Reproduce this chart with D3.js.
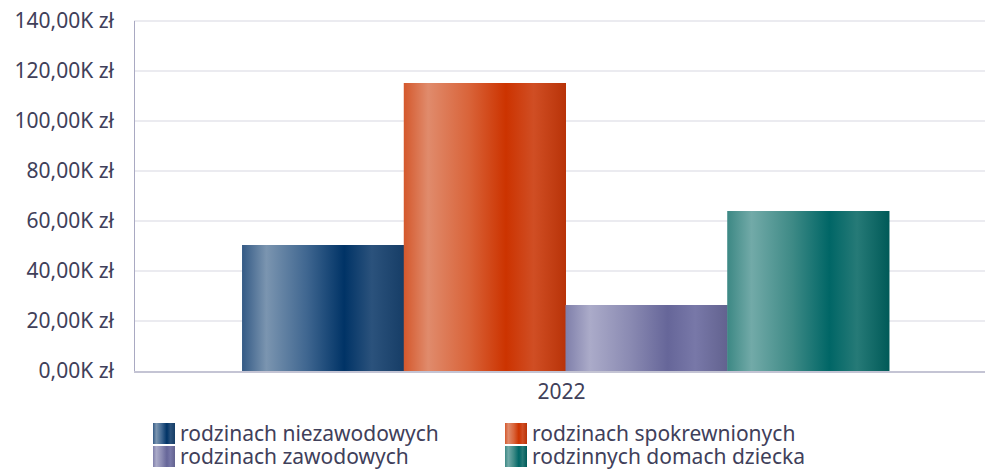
<!DOCTYPE html>
<html>
<head>
<meta charset="utf-8">
<script src="https://cdn.jsdelivr.net/npm/d3@7"></script>
<style>
  body { margin: 0; background: #fff; }
  svg text { font-family: "Noto Sans", sans-serif; fill: #40405a; }
</style>
</head>
<body>
<svg width="985" height="473"></svg>
<script>
// data
const years = ["2022"];
const series = [
  "rodzinach niezawodowych",
  "rodzinach spokrewnionych",
  "rodzinach zawodowych",
  "rodzinnych domach dziecka"
];
const values = [50400, 115200, 26400, 64000];
const yTicks = [0, 20000, 40000, 60000, 80000, 100000, 120000, 140000];

// gradient stops per series: [edge, highlight, mid, base, light, dark end]
const palettes = [
  ["#345a85", "#7b95b0", "#3f6690", "#003366", "#2b527c", "#163d66"],
  ["#d4582c", "#e08b6c", "#d9643a", "#cc3300", "#d04e24", "#b83308"],
  ["#7f7faa", "#ababc9", "#8a8ab2", "#666699", "#7878a8", "#62628f"],
  ["#3c8884", "#72aaa8", "#3e8a86", "#006666", "#267a77", "#005a58"]
];
const stopOffsets = ["0%", "15%", "40%", "63%", "80%", "100%"];

const svg = d3.select("svg");
const margin = { left: 134, top: 21 };
const plotRight = 985;
const plotBottom = 371;

const defs = svg.append("defs");
palettes.forEach((p, i) => {
  const g = defs.append("linearGradient")
    .attr("id", "grad" + i)
    .attr("x1", "0%").attr("x2", "100%")
    .attr("y1", "0%").attr("y2", "0%");
  p.forEach((c, j) => {
    g.append("stop").attr("offset", stopOffsets[j]).attr("stop-color", c);
  });
});

const y = d3.scaleLinear()
  .domain([0, 140000])
  .range([plotBottom, margin.top]);

const x0 = d3.scaleBand()
  .domain(years)
  .range([margin.left, 997])
  .paddingInner(0)
  .paddingOuter(0.167);

const x1 = d3.scaleBand()
  .domain(series)
  .range([0, x0.bandwidth()])
  .padding(0);

// grid lines
svg.append("g")
  .selectAll("line")
  .data(yTicks.slice(1))
  .join("line")
  .attr("x1", margin.left)
  .attr("x2", plotRight)
  .attr("y1", d => y(d))
  .attr("y2", d => y(d))
  .attr("stroke", "#ebebf0")
  .attr("stroke-width", 2);

// y tick labels
const fmt = d => d3.format(".2f")(d / 1000).replace(".", ",") + "K zł";
svg.append("g")
  .selectAll("text")
  .data(yTicks)
  .join("text")
  .attr("x", 114)
  .attr("y", d => y(d))
  .attr("dy", "0.35em")
  .attr("text-anchor", "end")
  .style("font-size", "21px")
  .text(fmt);

// bars
const group = svg.append("g");
years.forEach(yr => {
  group.selectAll("rect")
    .data(series)
    .join("rect")
    .attr("x", s => x0(yr) + x1(s))
    .attr("y", (s, i) => y(values[i]))
    .attr("width", x1.bandwidth() + 0.5)
    .attr("height", (s, i) => plotBottom - y(values[i]))
    .attr("fill", (s, i) => "url(#grad" + i + ")");
});

// axes lines
svg.append("line")
  .attr("x1", margin.left + 0.5).attr("x2", margin.left + 0.5)
  .attr("y1", margin.top).attr("y2", plotBottom + 1)
  .attr("stroke", "#a9a9c2").attr("stroke-width", 1);
svg.append("line")
  .attr("x1", margin.left).attr("x2", plotRight)
  .attr("y1", plotBottom + 1).attr("y2", plotBottom + 1)
  .attr("stroke", "#c4c4d4").attr("stroke-width", 2);

// x label
svg.selectAll("text.xlab")
  .data(years)
  .join("text")
  .attr("class", "xlab")
  .attr("x", d => x0(d) + x0.bandwidth() / 2 - 4)
  .attr("y", 399)
  .attr("text-anchor", "middle")
  .style("font-size", "21px")
  .text(d => d);

// legend
const legendPos = [[153, 423], [505, 423], [153, 446], [505, 446]];
const legend = svg.append("g")
  .selectAll("g")
  .data(series)
  .join("g")
  .attr("transform", (d, k) => `translate(${legendPos[k][0]},${legendPos[k][1]})`);
legend.append("rect")
  .attr("width", 22).attr("height", 21)
  .attr("fill", (d, k) => "url(#grad" + k + ")");
legend.append("text")
  .attr("x", 27)
  .attr("y", 18)
  .style("font-size", "21px")
  .text(d => d);
</script>
</body>
</html>
